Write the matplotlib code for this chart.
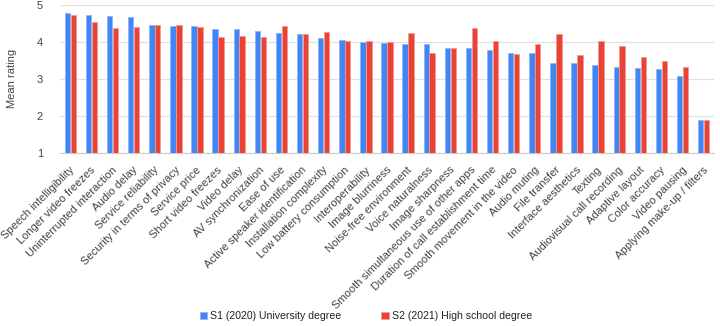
import numpy as np
import matplotlib.pyplot as plt

plt.rcParams['font.family'] = ['Liberation Sans', 'DejaVu Sans']

# =========== DATA ==============#
categories = [
    "Speech intelligibility", "Longer video freezes", "Uninterrupted interaction",
    "Audio delay", "Service reliability", "Security in terms of privacy",
    "Service price", "Short video freezes", "Video delay", "AV synchronization",
    "Ease of use", "Active speaker identification", "Installation complexity",
    "Low battery consumption", "Interoperability", "Image blurriness",
    "Noise-free environment", "Voice naturalness", "Image sharpness",
    "Smooth simultaneous use of other apps", "Duration of call establishment time",
    "Smooth movement in the video", "Audio muting", "File transfer",
    "Interface aesthetics", "Texting", "Audiovisual call recording",
    "Adaptive layout", "Color accuracy", "Video pausing", "Applying make-up / filters",
]
s1_2020 = [4.77, 4.72, 4.69, 4.66, 4.47, 4.42, 4.42, 4.35, 4.35, 4.30,
           4.25, 4.22, 4.11, 4.06, 4.01, 3.97, 3.95, 3.95, 3.83, 3.83,
           3.78, 3.71, 3.71, 3.44, 3.43, 3.37, 3.33, 3.29, 3.26, 3.09, 1.90]
s2_2021 = [4.74, 4.53, 4.38, 4.40, 4.45, 4.46, 4.40, 4.13, 4.17, 4.13,
           4.44, 4.20, 4.28, 4.03, 4.03, 4.01, 4.23, 3.70, 3.84, 4.37,
           4.03, 3.68, 3.93, 4.22, 3.65, 4.03, 3.90, 3.58, 3.48, 3.31, 1.90]
series_names = ["S1 (2020) University degree", "S2 (2021) High school degree"]

# =========== SETUP ==============#
fig = plt.figure(figsize=(7.2, 3.26), dpi=100)
ax = fig.add_axes([0.083, 0.531, 0.909, 0.454])

x = np.arange(len(categories))
w = 0.26
ax.bar(x - w / 2 - 0.01, np.array(s1_2020) - 1, w, bottom=1, color='#4285F4',
       edgecolor='#8fb4f8', linewidth=0.6, label=series_names[0], zorder=3)
ax.bar(x + w / 2 + 0.01, np.array(s2_2021) - 1, w, bottom=1, color='#EA4335',
       edgecolor='#f29a92', linewidth=0.6, label=series_names[1], zorder=3)

ax.set_xlim(-0.5, len(categories) - 0.5)
ax.set_ylim(1, 5)
ax.set_yticks([1, 2, 3, 4, 5])
ax.grid(axis='y', color='#e0e0e0', linewidth=0.9, zorder=0)
for s in ['top', 'right', 'left']:
    ax.spines[s].set_visible(False)
ax.spines['bottom'].set_color('#cccccc')
ax.tick_params(axis='both', length=0, labelsize=8, colors='#444444')
ax.tick_params(axis='y', pad=12)
ax.tick_params(axis='x', pad=11)

# ticks are invisible; nudge them a bit right so the first label fits
ax.set_xticks(x + 0.12)
ax.set_xticklabels(categories, rotation=45, ha='right', va='center',
                   rotation_mode='anchor', fontsize=8, color='#444444')
ax.set_ylabel('Mean rating', fontsize=8, color='#444444', labelpad=14)

fig.legend(loc='lower center', bbox_to_anchor=(0.508, -0.015), ncol=2,
           frameon=False, fontsize=7.6, handlelength=0.7, handleheight=0.7,
           handletextpad=0.3, columnspacing=3.8, labelcolor='#222222')

fig.savefig('out.png', dpi=100)
